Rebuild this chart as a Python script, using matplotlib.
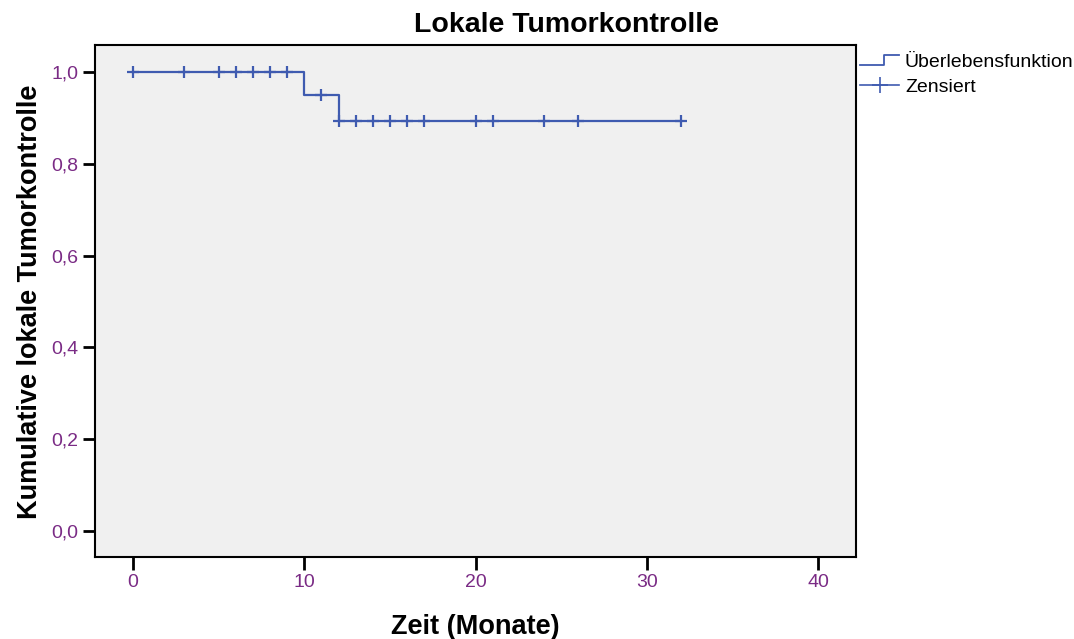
import matplotlib
matplotlib.use("Agg")
import matplotlib.pyplot as plt
from matplotlib.lines import Line2D
from matplotlib.legend_handler import HandlerBase

plt.rcParams['font.family'] = ['Liberation Sans', 'DejaVu Sans']

# Kaplan-Meier estimate (Zeit in Monaten)
step_times = [0, 10, 12, 32]
survival = [1.0, 0.95, 0.894, 0.894]

# censored observations
censor_times = [0, 3, 5, 6, 7, 8, 9, 11, 12, 13, 14, 15, 16, 17, 20, 21, 24, 26, 32]
censor_surv = [1.0, 1.0, 1.0, 1.0, 1.0, 1.0, 1.0, 0.95,
               0.894, 0.894, 0.894, 0.894, 0.894, 0.894, 0.894, 0.894, 0.894, 0.894, 0.894]

x_ticks = [0, 10, 20, 30, 40]
y_ticks = [0.0, 0.2, 0.4, 0.6, 0.8, 1.0]
y_ticklabels = ["0,0", "0,2", "0,4", "0,6", "0,8", "1,0"]

line_col = '#3F5BB0'
tick_col = '#7A2B85'


class StepHandler(HandlerBase):
    def create_artists(self, legend, orig_handle, xdescent, ydescent,
                       width, height, fontsize, trans):
        x0, x1 = -xdescent, -xdescent + width
        ym = -ydescent + height * 0.1
        yt = -ydescent + height * 0.85
        xm = x0 + width * 0.62
        ln = Line2D([x0, xm, xm, x1], [ym, ym, yt, yt], color=line_col, lw=1.3,
                    transform=trans)
        return [ln]


fig = plt.figure(figsize=(10.74, 6.39), dpi=100)
ax = fig.add_axes([95 / 1074, 1 - 557 / 639, (856 - 95) / 1074, (557 - 45) / 639])
ax.set_facecolor('#F0F0F0')

ax.step(step_times, survival, where='post', color=line_col, lw=1.6)
ax.plot(censor_times, censor_surv, '+', color=line_col, ms=9, mew=1.6)

ax.set_xlim(-2.22, 42.2)
ax.set_ylim(-0.057, 1.059)
ax.set_xticks(x_ticks)
ax.set_yticks(y_ticks)
ax.set_yticklabels(y_ticklabels)
ax.tick_params(axis='both', direction='out', length=9, width=2, colors='black',
               labelcolor=tick_col, labelsize=14, pad=3)

for s in ax.spines.values():
    s.set_linewidth(1.5)
    s.set_color('black')

fig.text(566 / 1074, 1 - 25 / 639, "Lokale Tumorkontrolle", fontsize=20.5,
         fontweight='bold', ha='center', va='center')
fig.text(475 / 1074, 1 - 627 / 639, "Zeit (Monate)", fontsize=19.5,
         fontweight='bold', ha='center', va='center')
fig.text(30 / 1074, 1 - 302 / 639, "Kumulative lokale Tumorkontrolle", fontsize=19.5,
         fontweight='bold', ha='center', va='center', rotation=90)

h_step = Line2D([], [], color=line_col)
h_cens = Line2D([], [], color=line_col, marker='+', ms=11, mew=1.2, lw=1.2)
ax.legend([h_step, h_cens], ["Überlebensfunktion", "Zensiert"],
          handler_map={h_step: StepHandler()},
          loc='upper left', bbox_to_anchor=(1.003, 0.988), frameon=False,
          fontsize=14, handlelength=2.0, handletextpad=0.3,
          borderaxespad=0, borderpad=0.1, labelspacing=0.4)

fig.savefig('out.png', dpi=100)
